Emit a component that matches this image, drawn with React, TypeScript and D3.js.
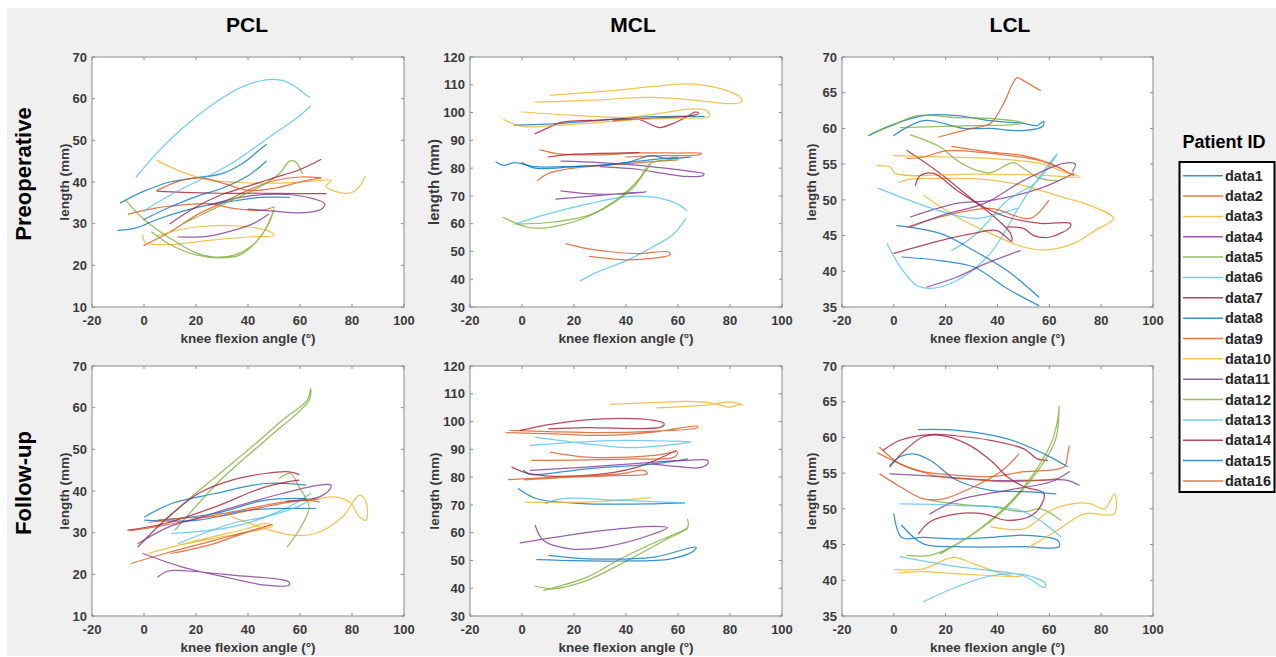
import React from 'react';
import * as d3 from 'd3';

type Pt = [number, number];

const COLORS = ['#0072BD', '#D95319', '#EDB120', '#7E2F8E', '#77AC30', '#4DBEEE', '#A2142F'];
const SERIES_NAMES = d3.range(1, 17).map((i) => `data${i}`);
const X_TICKS = [-20, 0, 20, 40, 60, 80, 100];
const PCL_TICKS = [10, 20, 30, 40, 50, 60, 70];
const MCL_TICKS = [30, 40, 50, 60, 70, 80, 90, 100, 110, 120];
const LCL_TICKS = [35, 40, 45, 50, 55, 60, 65, 70];
const COLUMN_TITLES = ['PCL', 'MCL', 'LCL'];
const ROW_TITLES = ['Preoperative', 'Follow-up'];
const X_LABEL = 'knee flexion angle (°)';
const Y_LABEL = 'length (mm)';
const LEGEND_TITLE = 'Patient ID';

const pclPre: Pt[][] = [
  [[-9, 35], [0, 37.8], [10, 40], [20, 41], [30, 42], [38, 44.5], [44, 47.5], [47, 49]],
  [[0, 24.8], [10, 28], [20, 32], [30, 35], [40, 38], [50, 40.3], [60, 41.2], [68, 41]],
  [[-0.5, 27.2], [0.5, 25.5], [10, 25], [25, 26], [40, 26.8], [50, 27.2], [48, 28.2], [35, 29.5], [20, 29.2], [10, 28], [5, 27]],
  [[13, 26.8], [25, 27], [35, 28.5], [42, 30], [48, 32.3]],
  [[-7, 35.6], [0, 31], [10, 26.5], [20, 23], [27, 22], [35, 22.5], [42, 25], [47, 29], [50, 33.5], [48, 30], [43, 25.5], [37, 22.5], [30, 21.8], [20, 22.5], [10, 25], [3, 28]],
  [[-3, 41.2], [5, 47], [15, 53], [25, 58], [35, 62], [45, 64.3], [52, 64.5], [58, 63], [62, 61], [63.7, 60.4]],
  [[5, 37.8], [15, 37.5], [30, 37.3], [45, 37.3], [60, 37.2], [70, 37.2]],
  [[-10, 28.4], [-3, 29], [5, 31], [15, 33], [25, 34.5], [35, 35.5], [45, 36.3], [56, 36.3]],
  [[-6, 32.3], [5, 33.8], [15, 34.5], [25, 34.8], [35, 33.6], [45, 33.2], [50, 34]],
  [[5, 45.2], [15, 42.3], [25, 40.5], [40, 39.8], [55, 39.8], [65, 40.2], [72, 40.4], [70, 39], [75, 37.5], [80, 37.5], [83, 39], [85, 41.3]],
  [[25, 34.5], [40, 36.6], [55, 37], [65, 36], [69.5, 34.8], [68, 33.4], [60, 32.6], [50, 33], [40, 33.5]],
  [[15, 30], [25, 33], [35, 36], [45, 39], [52, 42], [56, 45], [58, 45], [61, 42]],
  [[64, 58.2], [58, 55], [50, 51.6], [42, 48], [35, 45], [25, 41.5], [15, 38.5], [5, 35], [0, 33]],
  [[10, 30], [20, 34], [30, 37], [40, 39], [50, 41], [60, 43], [68, 45.4]],
  [[0, 31], [10, 34], [20, 36.5], [30, 38.5], [40, 41.5], [47, 45]],
  [[5, 38], [15, 40.5], [22, 41], [30, 39.8], [40, 38], [50, 38.5], [60, 40], [68, 41]],
];

const mclPre: Pt[][] = [
  [[-3, 95.5], [10, 95.8], [25, 96.8], [40, 98], [50, 98.5], [60, 98.6], [70, 98.6]],
  [[7, 86.6], [15, 85], [30, 84.8], [45, 85.5], [60, 85.4], [69, 85.3], [68, 84.8], [55, 84.5], [40, 84]],
  [[11, 106.2], [30, 107.5], [50, 109.3], [63, 110.3], [72, 109.5], [80, 107.5], [84, 105.5], [84.5, 103.8], [80, 103.2], [65, 104.6], [50, 105.5], [30, 104.6], [15, 104], [5, 103.8]],
  [[15, 82.5], [30, 82], [45, 81], [55, 80], [65, 78.8], [70, 78], [69.5, 77.3], [63, 77], [55, 78], [45, 79.5], [30, 80.5]],
  [[-7.2, 62.2], [1.8, 58.8], [7, 58.4], [15, 59.5], [25, 62.4], [37.8, 69.6], [44, 75], [49.3, 81]],
  [[-3, 59.8], [10, 63.5], [25, 67], [38, 69.5], [48, 69.8], [56, 68.5], [61, 66.5], [63.5, 64.5]],
  [[5, 92.4], [10, 94.5], [15, 96.5], [30, 97.3], [45, 97.5], [50, 95.5], [53, 94.6], [58, 96], [63, 98.3], [67, 100.2], [68, 99.6], [62, 98.5], [50, 98], [35, 97]],
  [[-10, 82.2], [-7, 81], [-3, 82], [5, 80.5], [15, 80.5], [30, 81], [45, 82.5], [60, 84]],
  [[6, 75.5], [10, 78], [20, 80], [40, 81.5], [60, 83]],
  [[0, 100.2], [20, 99], [40, 98.3], [55, 100], [65, 101.3], [71, 100.8], [72, 98.6], [60, 98], [45, 97.5], [30, 96.5], [15, 95.5], [0, 95], [-7, 97.5]],
  [[15, 71.8], [25, 70.8], [35, 70.6], [45, 71.2], [48, 71.5], [40, 71], [30, 70.2], [20, 69.4], [13, 68.8]],
  [[-2, 59.8], [12, 60.6], [27.5, 63.6], [43, 73.2], [49.3, 81.6], [56, 83], [64, 84]],
  [[63, 61.8], [58, 56], [50, 51.5], [40, 46.6], [30, 43], [22.5, 39.5]],
  [[10, 84], [20, 85], [30, 85.3], [45, 85.6]],
  [[0, 82], [5, 80], [20, 80.5], [40, 82], [50, 84.5], [55, 83.5], [65, 84]],
  [[17, 52.8], [25, 51], [35, 49.8], [45, 49.2], [56.5, 49.8], [57, 48.8], [50, 47.5], [40, 47], [30, 47.8], [26, 48.2]],
];

const lclPre: Pt[][] = [
  [[-9.7, 59], [-1.4, 60.4], [11.5, 61.8], [24.4, 61.8], [37.2, 61.1], [50, 60.7], [55.2, 60.4], [57.8, 61], [57.5, 60.3], [50, 59.7], [37, 60], [27, 60], [11.5, 61.1], [0, 59]],
  [[17.3, 58.8], [30, 60], [37.2, 60.7], [42.4, 63.5], [47.5, 67.1], [50, 66.7], [56.5, 65.3]],
  [[11.5, 50.6], [24.4, 47.6], [37.2, 45.3], [50, 43.4], [59, 43], [69.4, 43.9], [78, 45.8], [84.8, 47.4], [75.8, 49.2], [63, 50.6], [50, 52], [37, 52.8], [20, 53], [5, 52.8], [2, 52.4]],
  [[6.4, 47.6], [24.4, 49.5], [37.2, 49.9], [56.5, 51.6], [69.4, 53.7]],
  [[6.4, 59.1], [17.9, 57.4], [24.4, 55.5], [32.1, 54.1], [37.2, 53.8], [46.2, 55.2], [50.1, 54.4], [56.5, 53], [63, 52.7]],
  [[-2.6, 43.9], [2.5, 40.6], [8.9, 38], [14, 37.6], [24.4, 38.7], [37.2, 42.5], [50, 50], [63, 56.5], [62, 55.8], [55, 52.5], [43.7, 49.9], [32, 45.3], [22.4, 42.9]],
  [[5.1, 56.9], [17.9, 53.7], [30.8, 49.9], [37.2, 48.1], [45, 45.3], [45.5, 44.2], [39.8, 45.7], [30.8, 45.3], [18, 44.3], [0, 42.5]],
  [[1.2, 46.4], [17.9, 45.3], [30.8, 42.9], [43.7, 40.1], [55.9, 36.4]],
  [[5.1, 46.2], [17.9, 47.6], [37.2, 48.8], [52.7, 47.4], [59.7, 49.9]],
  [[0, 56.2], [20, 56], [37.2, 55.8], [56.5, 55.1], [65, 54], [72, 53.2], [55, 53.5], [30, 53.6], [0.6, 53.7], [-1.4, 54.6], [-6.5, 54.8]],
  [[12.8, 37.8], [24.4, 39.2], [35, 41], [48.8, 42.9]],
  [[-8.4, 59.3], [0, 60.5], [9, 61.8], [24.4, 61.5], [37, 61.4], [50, 60.8], [45, 60.5], [32, 60.4], [20, 60.3], [2.5, 60.1]],
  [[-5.9, 51.6], [11.5, 49.2], [24.4, 47.8], [32, 47.4], [47.5, 48.8]],
  [[8.3, 52], [10.2, 53.4], [15.4, 53.7], [24.4, 51.3], [34.7, 49], [43.7, 47.6], [56.5, 46.7], [68.1, 46.7], [68, 46.2], [60.4, 44.8], [54, 45], [50, 46], [43.7, 46.2]],
  [[3.2, 42], [17.9, 41.5], [30.8, 40.6], [43.7, 37.6], [55.9, 35.2]],
  [[5.1, 55.8], [11.5, 56], [20.5, 56.9], [37.2, 56.5], [56.5, 55.5], [63, 54.6], [69.4, 53.4], [60.4, 55.1], [50, 56.2], [37.2, 56.7], [22.4, 57.5]],
];

const lclPreExtra: Pt[] = [[6.4, 46.2], [20, 48], [35, 49.5], [50, 52.7], [65.5, 55.1], [70, 55], [69, 54]];

const pclPost: Pt[][] = [
  [[0.3, 33.8], [10.6, 37], [27.4, 39.4], [46.7, 41.8], [62.2, 41.4]],
  [[-5.5, 30.4], [8, 31.8], [33.8, 35], [59.6, 37.8], [67.4, 37.4]],
  [[1.5, 25], [20.9, 28.2], [40, 31], [46.7, 32.2], [49.5, 31.6], [45, 30.8], [30, 29], [15, 27.2]],
  [[-0.4, 25], [14.5, 21.8], [33.8, 19], [46.7, 17.4], [55.7, 17.4], [55.7, 18.2], [33.8, 19.8], [17, 20.8], [9.3, 20.8], [5.4, 19.4]],
  [[8, 33], [20, 39.5], [33.8, 46.6], [45, 52.5], [53.2, 57], [62.8, 61.8], [64.1, 64.6], [63.5, 61.8], [46.7, 52.2], [30, 43], [11.9, 30.6]],
  [[10.6, 29.8], [33.8, 31.4], [53.2, 35.4], [64.1, 39.4]],
  [[-2.3, 26.6], [8, 33], [20.9, 39.4], [33.8, 42.6], [46.7, 44.2], [55.7, 44.6], [59.6, 44]],
  [[0.3, 33], [20.9, 33], [40.3, 35.4], [66, 35.8]],
  [[-4.9, 22.6], [8, 25], [27.4, 28.2], [46.7, 31.4], [49.3, 32], [40, 30.2], [25, 27], [10.6, 25]],
  [[33.8, 33.8], [46.7, 31], [57, 29.4], [66, 29.8], [76.4, 33.8], [82.8, 39], [85.4, 37.4], [85.4, 33], [82.8, 33.8], [79, 37.4], [72.5, 38.6], [64.8, 37.8]],
  [[-2.3, 27.4], [10, 31.5], [20.9, 33.5], [33.8, 36], [53.2, 39.4], [67.4, 41.4], [71.9, 41.4], [71.2, 40.2], [67.4, 38.6], [55, 37.5]],
  [[52, 43], [56.4, 44.2], [59.6, 41], [63.5, 36.2], [60, 31], [55.1, 26.6]],
  [[13.2, 27.4], [33.8, 32.2], [46.7, 33.8], [60, 36.5], [64, 38]],
  [[-6.2, 30.6], [8, 32.2], [27.4, 36.2], [46.7, 41], [59.6, 42.6]],
  [[5.4, 33], [27.4, 34.6], [46.7, 37.8], [62.2, 38.2]],
  [[2, 32.5], [15, 33.5], [30, 34], [45, 36], [58, 37.5], [67, 38]],
];

const mclPost: Pt[][] = [
  [[0.6, 82.4], [3.2, 81], [25, 83], [50.8, 84.8], [63.7, 86.6]],
  [[-6.1, 96], [12.2, 95.6], [31.5, 95], [50.8, 96.2], [67.5, 98.3], [67.5, 97.8], [50, 96.5], [30, 96], [10, 96.4], [-4.5, 96.8]],
  [[34, 106.2], [50, 106.8], [63.7, 107.3], [72, 106.8], [76, 106], [80, 105.2], [83, 106], [85, 106], [81, 107], [77, 106.8], [70, 105.8], [60, 105.3], [52, 104.9]],
  [[5.1, 62.6], [8.3, 57.2], [18.6, 54.2], [31.5, 54.8], [50.8, 59.6], [56, 61.8], [50.8, 62.3], [31.5, 60.8], [-0.7, 56.3]],
  [[5.1, 40.8], [12.2, 39.8], [25, 42.8], [40.5, 50], [54.7, 57.2], [63.7, 62], [63.7, 64.8]],
  [[5.1, 94.4], [25, 92], [40.5, 90.6], [65, 92.6], [55, 93], [38, 93.2], [20, 92.5], [3.2, 91.4]],
  [[-3.9, 83.6], [3.2, 81.2], [25, 80.6], [44.4, 83.6], [59.2, 89.6]],
  [[-1.3, 75.8], [5.7, 72.2], [25, 70.4], [50.8, 70.4], [62.4, 70.7]],
  [[-5.2, 79.1], [12.2, 80], [37.9, 81.2], [47, 82.4], [48.2, 81.2], [35, 80.5], [15, 79.8], [1, 79]],
  [[1.2, 71], [25, 71], [49.5, 72.6]],
  [[3.2, 82.4], [25, 83.6], [50.8, 85.4], [63.7, 86], [71.4, 86], [71.4, 84.8], [67.5, 83.3], [62.4, 83.6], [50, 84.8]],
  [[8.3, 39.2], [25, 44], [37.9, 50.6], [50, 56], [63.7, 61.4]],
  [[9, 70.4], [14.8, 72.2], [37.9, 71.6], [62.4, 70.7]],
  [[-0.7, 96.8], [12.2, 99.2], [31.5, 101], [50.8, 100.4], [54.7, 99.2], [53.4, 98], [25, 97.8], [10.3, 97.4]],
  [[10.3, 51.8], [25, 50.6], [50.8, 51.2], [66.9, 54.8], [66.3, 53.6], [57.3, 50.6], [37.9, 49.8], [5.7, 50.3]],
  [[10.9, 89], [25, 87.2], [50.8, 87.8], [59.8, 89], [58.5, 87.2], [40, 86.5], [3.8, 86]],
];

const lclPost: Pt[][] = [
  [[9.5, 61.1], [24.4, 61], [43.8, 59.8], [58, 57.7], [67, 55.9]],
  [[-5.4, 58.6], [2.4, 56.3], [11.4, 55.2], [24.4, 54.7], [37.3, 54.5], [50.2, 55.2], [65.7, 55.9], [67, 57.5], [67.7, 58.8]],
  [[0.4, 41.5], [11.4, 41.6], [23, 43.2], [30.8, 42.3], [43.8, 40.7], [48.9, 40.5], [40, 40.6], [24.4, 40.9], [10, 41.2], [2, 41]],
  [[-1.5, 54.9], [17.9, 54.5], [37.3, 54], [56.7, 54], [67, 54], [71.5, 53.3]],
  [[14, 51.2], [26.9, 50.6], [37.3, 50.3], [50.2, 49.6], [56.7, 50], [64.4, 48.4]],
  [[11.4, 37], [24.4, 39.1], [37.3, 40.6], [50.2, 40.8], [58.6, 39.5], [58, 39], [50.2, 40.6], [24.4, 41.9], [2.4, 43.3]],
  [[-4.1, 58.2], [2.4, 59.6], [14, 60.4], [24.4, 60.2], [37.3, 59.6], [50.2, 58.4], [55.4, 57], [59.3, 56.8]],
  [[0, 49.3], [3, 46], [11.4, 46], [24.4, 45.8], [37.3, 46], [50.2, 46.3], [63.2, 45.6], [63.8, 44.7], [50.2, 44.7], [24.4, 44.7], [11.4, 45.1], [3, 47.7]],
  [[-6.1, 57.8], [5, 55.9], [17.9, 54.5], [30.8, 54.1], [43.8, 53.8], [63.2, 54.2]],
  [[51.5, 44.5], [63.2, 47], [73.5, 49.3], [85.1, 49.3], [85.1, 52.1], [81.3, 50], [76.1, 50.7], [70.9, 50.8], [60.6, 49.8], [50.2, 47.2], [37.3, 47.5]],
  [[14, 49.3], [24.4, 51.2], [43.8, 52.6], [60.6, 53.8], [67.7, 55.2]],
  [[5, 43.5], [14, 43.5], [24.4, 45.1], [37.3, 48.4], [50.2, 53.1], [60.6, 59.1], [63.2, 62.4], [63.8, 64.4], [62.5, 59.8], [56.7, 55.9], [43.8, 50.3], [30.8, 46.5], [17.9, 43.7]],
  [[2.4, 50.7], [24.4, 50.5], [50.2, 49.6], [64.4, 46.1]],
  [[-1.5, 55.9], [3.7, 58], [11.4, 60.1], [17.9, 60.3], [28.2, 59.1], [37.3, 56.8], [43.8, 54.5], [50.2, 53.1], [58, 52.1], [54.1, 49.3], [43.8, 48.4], [34.7, 49.3], [24.4, 49.3], [14, 48.2], [9.5, 46.5]],
  [[-1.5, 56.1], [2.4, 57.3], [7.5, 57.7], [14, 56.8], [24.4, 54], [37.3, 52.6], [50.2, 52.4], [62.5, 52.1]],
  [[-5.4, 54.9], [2.4, 53.1], [11.4, 51.4], [19.2, 51.4], [30.8, 53.1], [41.2, 55.2], [48.3, 57.7]],
];

// layout
const COL_X: [number, number][] = [[92, 404], [470, 782], [842, 1153]];
const ROW_Y: [number, number][] = [[57, 307], [366, 616]];
const YLABEL_OFFSET = [28, 36, 31];
const TITLE_X = [247, 633, 1010];
const FONT = '"Liberation Sans", Arial, Helvetica, sans-serif';

const PANELS = [
  { row: 0, col: 0, ticks: PCL_TICKS, data: pclPre, extra: [] as { idx: number; pts: Pt[] }[] },
  { row: 0, col: 1, ticks: MCL_TICKS, data: mclPre, extra: [] as { idx: number; pts: Pt[] }[] },
  { row: 0, col: 2, ticks: LCL_TICKS, data: lclPre, extra: [{ idx: 3, pts: lclPreExtra }] },
  { row: 1, col: 0, ticks: PCL_TICKS, data: pclPost, extra: [] as { idx: number; pts: Pt[] }[] },
  { row: 1, col: 1, ticks: MCL_TICKS, data: mclPost, extra: [] as { idx: number; pts: Pt[] }[] },
  { row: 1, col: 2, ticks: LCL_TICKS, data: lclPost, extra: [] as { idx: number; pts: Pt[] }[] },
];

function Panel({ row, col, ticks, data, extra }: { row: number; col: number; ticks: number[]; data: Pt[][]; extra: { idx: number; pts: Pt[] }[] }) {
  const [x0, x1] = COL_X[col];
  const [y0, y1] = ROW_Y[row];
  const xs = d3.scaleLinear().domain([X_TICKS[0], X_TICKS[X_TICKS.length - 1]]).range([x0, x1]);
  const ys = d3.scaleLinear().domain([ticks[0], ticks[ticks.length - 1]]).range([y1, y0]);
  const line = d3
    .line<Pt>()
    .x((d) => xs(d[0]))
    .y((d) => ys(d[1]))
    .curve(d3.curveCatmullRom.alpha(0.5));
  const clipId = `clip-${row}-${col}`;
  const tl = 3;
  const axisColor = '#8a8a8a';
  const tickText = '#3a3a3a';
  const allLines = [...data.map((pts, idx) => ({ idx, pts })), ...extra];
  return (
    <g>
      <defs>
        <clipPath id={clipId}>
          <rect x={x0} y={y0} width={x1 - x0} height={y1 - y0} />
        </clipPath>
      </defs>
      <rect x={x0} y={y0} width={x1 - x0} height={y1 - y0} fill="#ffffff" />
      <g clipPath={`url(#${clipId})`}>
        {allLines.map((s, i) => (
          <path
            key={i}
            d={line(s.pts) || ''}
            fill="none"
            stroke={COLORS[s.idx % COLORS.length]}
            strokeWidth={1.25}
            strokeOpacity={0.78}
            strokeLinejoin="round"
            strokeLinecap="round"
          />
        ))}
      </g>
      <rect x={x0} y={y0} width={x1 - x0} height={y1 - y0} fill="none" stroke={axisColor} strokeWidth={1} />
      {X_TICKS.map((t) => (
        <g key={`x${t}`}>
          <line x1={xs(t)} x2={xs(t)} y1={y1} y2={y1 - tl} stroke={axisColor} />
          <line x1={xs(t)} x2={xs(t)} y1={y0} y2={y0 + tl} stroke={axisColor} />
          <text x={xs(t)} y={y1 + 18} textAnchor="middle" fontSize={13} fontWeight="bold" fill={tickText} fontFamily={FONT}>
            {t}
          </text>
        </g>
      ))}
      {ticks.map((t) => (
        <g key={`y${t}`}>
          <line x1={x0} x2={x0 + tl} y1={ys(t)} y2={ys(t)} stroke={axisColor} />
          <line x1={x1} x2={x1 - tl} y1={ys(t)} y2={ys(t)} stroke={axisColor} />
          <text x={x0 - 5} y={ys(t)} dy="0.36em" textAnchor="end" fontSize={13} fontWeight="bold" fill={tickText} fontFamily={FONT}>
            {t}
          </text>
        </g>
      ))}
      <text x={(x0 + x1) / 2} y={y1 + 36} textAnchor="middle" fontSize={13.5} fontWeight="bold" fill={tickText} fontFamily={FONT}>
        {X_LABEL}
      </text>
      <text
        transform={`translate(${x0 - YLABEL_OFFSET[col] + 5},${(y0 + y1) / 2}) rotate(-90)`}
        textAnchor="middle"
        fontSize={col === 1 && row === 0 ? 15 : 13.5}
        fontWeight="bold"
        fill={tickText}
        fontFamily={FONT}
      >
        {Y_LABEL}
      </text>
    </g>
  );
}

export default function App() {
  const legendX = 1179.5;
  const legendY = 162;
  const legendW = 95;
  const legendH = 330;
  const entryY0 = 175.7;
  const entryStep = 20.35;
  return (
    <svg width={1276} height={657} style={{ position: 'absolute', left: 0, top: 0, display: 'block' }}>
      <rect x={0} y={0} width={1276} height={657} fill="#ffffff" />
      <rect x={7} y={8} width={1269} height={648} fill="#f0f0f0" />
      {COLUMN_TITLES.map((t, i) => (
        <text key={t} x={TITLE_X[i]} y={32} textAnchor="middle" fontSize={21} fontWeight="bold" fill="#000" fontFamily={FONT}>
          {t}
        </text>
      ))}
      {ROW_TITLES.map((t, i) => (
        <text
          key={t}
          transform={`translate(31,${(ROW_Y[i][0] + ROW_Y[i][1]) / 2 - 8}) rotate(-90)`}
          textAnchor="middle"
          fontSize={22}
          fontWeight="bold"
          fill="#000"
          fontFamily={FONT}
        >
          {t}
        </text>
      ))}
      {PANELS.map((p) => (
        <Panel key={`${p.row}-${p.col}`} {...p} />
      ))}
      <text x={1224} y={148} textAnchor="middle" fontSize={18} fontWeight="bold" fill="#000" fontFamily={FONT}>
        {LEGEND_TITLE}
      </text>
      <rect x={legendX} y={legendY} width={legendW} height={legendH} fill="#ffffff" stroke="#000" strokeWidth={2} />
      {SERIES_NAMES.map((name, i) => {
        const y = entryY0 + i * entryStep;
        return (
          <g key={name}>
            <line x1={1183} x2={1223} y1={y} y2={y} stroke={COLORS[i % COLORS.length]} strokeWidth={1.5} strokeOpacity={0.78} />
            <text x={1225} y={y + 5} fontSize={14.5} fontWeight="bold" fill="#262626" fontFamily={FONT}>
              {name}
            </text>
          </g>
        );
      })}
    </svg>
  );
}
